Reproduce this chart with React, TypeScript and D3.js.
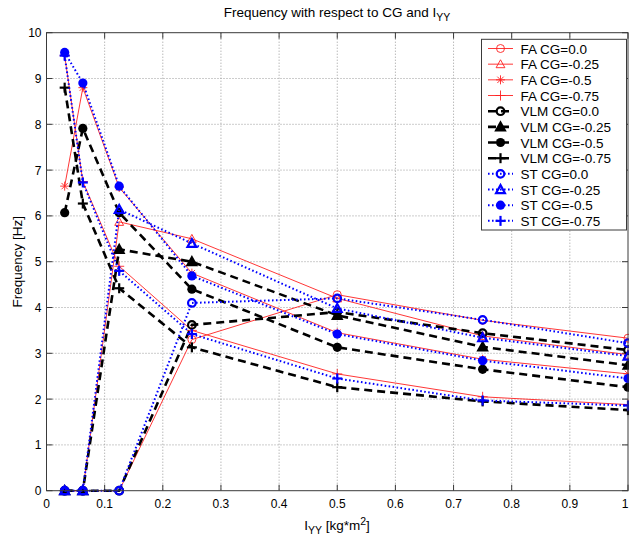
import React from "react";
import * as d3 from "d3";

const xValues = [0.03125, 0.0625, 0.125, 0.25, 0.5, 0.75, 1.0];

const faCG0 = [0, 0, 0, 3.3, 4.28, 3.72, 3.33];
const faCG025 = [0, 0, 5.87, 5.5, 4.2, 3.38, 2.97];
const faCG05 = [6.65, 8.8, 6.62, 4.75, 3.45, 2.87, 2.55];
const faCG075 = [9.5, 6.75, 4.9, 3.5, 2.55, 2.05, 1.88];

const vlmCG0 = [0, 0, 0, 3.62, 3.9, 3.44, 3.07];
const vlmCG025 = [0, 0, 5.27, 5.0, 3.83, 3.14, 2.74];
const vlmCG05 = [6.07, 7.91, 6.07, 4.4, 3.13, 2.65, 2.26];
const vlmCG075 = [8.8, 6.27, 4.42, 3.13, 2.26, 1.95, 1.76];

const stCG0 = [0, 0, 0, 4.1, 4.2, 3.73, 3.22];
const stCG025 = [0, 0, 6.14, 5.4, 3.98, 3.34, 2.94];
const stCG05 = [9.57, 8.9, 6.65, 4.69, 3.42, 2.84, 2.45];
const stCG075 = [9.5, 6.73, 4.8, 3.42, 2.45, 1.97, 1.86];

const seriesNames = [
  "FA CG=0.0", "FA CG=-0.25", "FA CG=-0.5", "FA CG=-0.75",
  "VLM CG=0.0", "VLM CG=-0.25", "VLM CG=-0.5", "VLM CG=-0.75",
  "ST CG=0.0", "ST CG=-0.25", "ST CG=-0.5", "ST CG=-0.75",
];
const seriesValues = [
  faCG0, faCG025, faCG05, faCG075,
  vlmCG0, vlmCG025, vlmCG05, vlmCG075,
  stCG0, stCG025, stCG05, stCG075,
];
const seriesMarkers = [
  "circle", "triangle", "star", "plus",
  "circle", "triangle", "dot", "plus",
  "circle", "triangle", "dot", "plus",
];

const xTicks = [0, 0.1, 0.2, 0.3, 0.4, 0.5, 0.6, 0.7, 0.8, 0.9, 1];
const yTicks = [0, 1, 2, 3, 4, 5, 6, 7, 8, 9, 10];

type Style = { color: string; width: number; dash: string | null; mw: number };
const styleFor = (i: number): Style => {
  if (i < 4) return { color: "#ff2020", width: 0.9, dash: null, mw: 0.9 };
  if (i < 8) return { color: "#000000", width: 2.6, dash: "8,5", mw: 2.2 };
  return { color: "#0000ff", width: 2, dash: "1.6,2.4", mw: 2.2 };
};

const FONT = "'Liberation Sans', Arial, Helvetica, sans-serif";

function Marker({ kind, x, y, st }: { kind: string; x: number; y: number; st: Style }) {
  const c = st.color;
  const w = st.mw;
  if (kind === "circle") {
    const r = st.width > 1 ? 3.8 : 4;
    return <circle cx={x} cy={y} r={r} fill="none" stroke={c} strokeWidth={w} />;
  }
  if (kind === "dot") {
    return <circle cx={x} cy={y} r={4.6} fill={c} stroke="none" />;
  }
  if (kind === "triangle") {
    const s = 4.4;
    const pts = `${x},${y - s} ${x + s},${y + s * 0.8} ${x - s},${y + s * 0.8}`;
    const fill = st.color === "#000000" ? c : "none";
    return <polygon points={pts} fill={fill} stroke={c} strokeWidth={w} strokeLinejoin="miter" />;
  }
  if (kind === "plus") {
    const s = 5;
    return (
      <g stroke={c} strokeWidth={w}>
        <line x1={x - s} y1={y} x2={x + s} y2={y} />
        <line x1={x} y1={y - s} x2={x} y2={y + s} />
      </g>
    );
  }
  if (kind === "star") {
    const s = 4.5;
    const d = s * 0.707;
    return (
      <g stroke={c} strokeWidth={w}>
        <line x1={x - s} y1={y} x2={x + s} y2={y} />
        <line x1={x} y1={y - s} x2={x} y2={y + s} />
        <line x1={x - d} y1={y - d} x2={x + d} y2={y + d} />
        <line x1={x - d} y1={y + d} x2={x + d} y2={y - d} />
      </g>
    );
  }
  return null;
}

export default function App() {
  const W = 629, H = 540;
  const left = 46.5, right = 628, top = 32.7, bottom = 490.7;
  const x = d3.scaleLinear().domain([0, 1]).range([left, right]);
  const y = d3.scaleLinear().domain([0, 10]).range([bottom, top]);
  const line = d3.line<number>().x((_, i) => x(xValues[i])).y((v) => y(v));
  const axisColor = "#3a3a3a";
  const tickLen = 6;

  const legX = 481.5, legY = 39.3, legW = 145, legH = 190.7;
  const rowY0 = 48.5, rowStep = 15.67;

  return (
    <div style={{ position: "fixed", left: 0, top: 0, width: W, height: H, background: "#fff" }}>
      <svg width={W} height={H} style={{ display: "block" }} fontFamily={FONT}>
        <rect x={0} y={0} width={W} height={H} fill="#fff" />
        {/* grid */}
        <g stroke="#9a9a9a" strokeWidth={1} strokeDasharray="1,2">
          {xTicks.slice(1, -1).map((t) => (
            <line key={"gx" + t} x1={x(t)} x2={x(t)} y1={top} y2={bottom} />
          ))}
          {yTicks.slice(1, -1).map((t) => (
            <line key={"gy" + t} x1={left} x2={right} y1={y(t)} y2={y(t)} />
          ))}
        </g>
        {/* ticks */}
        <g stroke={axisColor} strokeWidth={1}>
          {xTicks.map((t) => (
            <g key={"tx" + t}>
              <line x1={x(t)} x2={x(t)} y1={bottom} y2={bottom - tickLen} />
              <line x1={x(t)} x2={x(t)} y1={top} y2={top + tickLen} />
            </g>
          ))}
          {yTicks.map((t) => (
            <g key={"ty" + t}>
              <line x1={left} x2={left + tickLen} y1={y(t)} y2={y(t)} />
              <line x1={right} x2={right - tickLen} y1={y(t)} y2={y(t)} />
            </g>
          ))}
        </g>
        {/* series */}
        {seriesValues.map((vals, i) => {
          const st = styleFor(i);
          return (
            <g key={"s" + i}>
              <path
                d={line(vals) || ""}
                fill="none"
                stroke={st.color}
                strokeWidth={st.width}
                strokeDasharray={st.dash || undefined}
                strokeLinejoin="round"
              />
              {vals.map((v, j) => (
                <Marker key={j} kind={seriesMarkers[i]} x={x(xValues[j])} y={y(v)} st={st} />
              ))}
            </g>
          );
        })}
        {/* axes box */}
        <rect x={left} y={top} width={right - left} height={bottom - top} fill="none" stroke={axisColor} strokeWidth={1} />
        {/* tick labels */}
        <g fontSize={12} fill="#000">
          {xTicks.map((t, i) => {
            const last = i === xTicks.length - 1;
            return (
              <text
                key={"lx" + t}
                x={last ? W - 0.5 : x(t)}
                y={bottom + 17}
                textAnchor={last ? "end" : "middle"}
              >
                {d3.format("~g")(t)}
              </text>
            );
          })}
          {yTicks.map((t) => (
            <text key={"ly" + t} x={left - 5} y={y(t) + 4.5} textAnchor="end">
              {t}
            </text>
          ))}
        </g>
        {/* title */}
        <text x={337} y={17} textAnchor="middle" fontSize={13.5}>
          Frequency with respect to CG and I
          <tspan fontSize={10.5} dy={4}>YY</tspan>
        </text>
        {/* x label */}
        <text x={337} y={530} textAnchor="middle" fontSize={13.5}>
          I
          <tspan fontSize={10.5} dy={4}>YY</tspan>
          <tspan dy={-4}> [kg*m</tspan>
          <tspan fontSize={10.5} dy={-5}>2</tspan>
          <tspan dy={5}>]</tspan>
        </text>
        {/* y label */}
        <text transform={`translate(22,${(top + bottom) / 2}) rotate(-90)`} textAnchor="middle" fontSize={13.5}>
          Frequency [Hz]
        </text>
        {/* legend */}
        <rect x={legX} y={legY} width={legW} height={legH} fill="#fff" stroke={axisColor} strokeWidth={1} />
        {seriesNames.map((name, i) => {
          const st = styleFor(i);
          const ry = rowY0 + i * rowStep;
          return (
            <g key={"lg" + i}>
              <line
                x1={488}
                x2={513}
                y1={ry}
                y2={ry}
                stroke={st.color}
                strokeWidth={st.width}
                strokeDasharray={st.dash || undefined}
              />
              <Marker kind={seriesMarkers[i]} x={500.5} y={ry} st={st} />
              <text x={520.5} y={ry + 5} fontSize={13.5} fill="#000">
                {name}
              </text>
            </g>
          );
        })}
      </svg>
    </div>
  );
}
